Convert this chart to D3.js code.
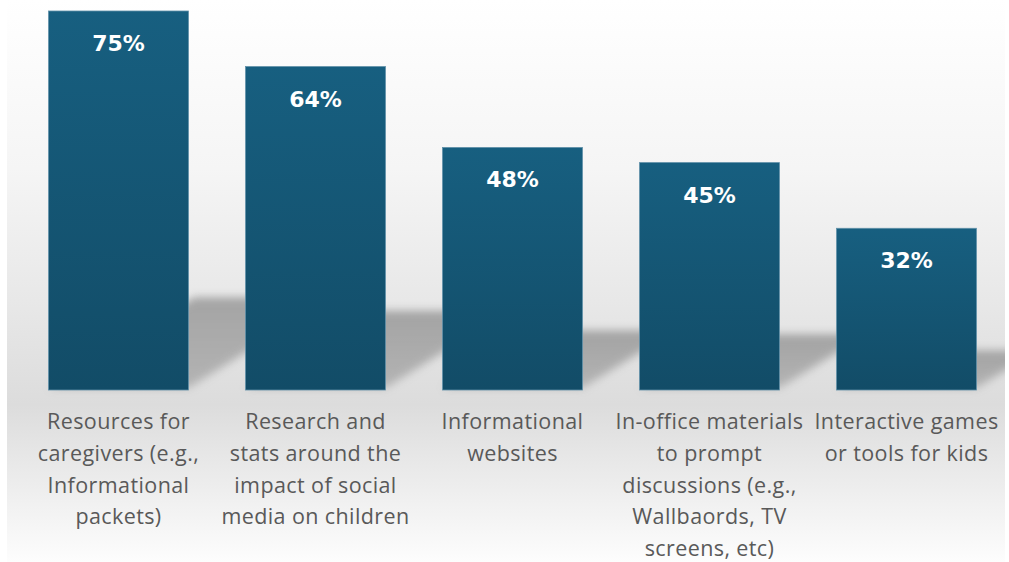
<!DOCTYPE html>
<html>
<head>
<meta charset="utf-8">
<script src="https://cdn.jsdelivr.net/npm/d3@7"></script>
<style>
  body { margin: 0; background: #fff; }
  svg { display: block; }
</style>
</head>
<body>
<div class="container"></div>
<script>
const categories = [
    ["Resources for", "caregivers (e.g.,", "Informational", "packets)"],
    ["Research and", "stats around the", "impact of social", "media on children"],
    ["Informational", "websites"],
    ["In-office materials", "to prompt", "discussions (e.g.,", "Wallbaords, TV", "screens, etc)"],
    ["Interactive games", "or tools for kids"]
];
const values = [75, 64, 48, 45, 32];

const width = 1009, height = 562,
    margin = {top: 11, bottom: 172, left: 20, right: 4};

const svg = d3.select('.container')
    .append('svg')
    .attr('width', width)
    .attr('height', height);

const defs = svg.append('defs');

const bg = defs.append('linearGradient')
    .attr('id', 'bg').attr('x1', 0).attr('y1', 0).attr('x2', 0).attr('y2', 1);
[[0, '#ffffff'], [0.3, '#f5f5f5'], [0.55, '#e7e7e7'], [0.72, '#dcdcdc'], [1, '#fdfdfd']]
    .forEach(([o, c]) => bg.append('stop').attr('offset', o).attr('stop-color', c));

const barGrad = defs.append('linearGradient')
    .attr('id', 'barGrad').attr('x1', 0).attr('y1', 0).attr('x2', 0).attr('y2', 1);
barGrad.append('stop').attr('offset', 0).attr('stop-color', '#175f80');
barGrad.append('stop').attr('offset', 1).attr('stop-color', '#124c67');

const shadowGrad = defs.append('linearGradient')
    .attr('id', 'shadowGrad').attr('x1', 0).attr('y1', 0).attr('x2', 0).attr('y2', 1);
shadowGrad.append('stop').attr('offset', 0).attr('stop-color', '#8a8a8a');
shadowGrad.append('stop').attr('offset', 1).attr('stop-color', '#a4a4a4');

defs.append('filter').attr('id', 'blur')
    .attr('x', '-30%').attr('y', '-30%').attr('width', '160%').attr('height', '160%')
    .append('feGaussianBlur').attr('stdDeviation', 4.5);

defs.append('clipPath').attr('id', 'plotClip')
    .append('rect').attr('x', 7).attr('y', 0).attr('width', 998).attr('height', height);

svg.append('rect')
    .attr('x', 7).attr('y', 0)
    .attr('width', 998).attr('height', height)
    .attr('fill', 'url(#bg)');

const xScale = d3.scaleBand()
    .domain(d3.range(values.length))
    .range([margin.left, width - margin.right])
    .paddingInner(0.29)
    .paddingOuter(0.145);

const yScale = d3.scaleLinear()
    .domain([0, 75])
    .range([height - margin.bottom, margin.top]);

const base = yScale(0);

// skewed shadows cast backwards onto the floor
svg.append('g')
    .attr('clip-path', 'url(#plotClip)')
    .selectAll('path')
    .data(values)
    .join('path')
    .attr('filter', 'url(#blur)')
    .attr('fill', 'url(#shadowGrad)')
    .attr('opacity', 0.72)
    .attr('d', (d, i) => {
        const x0 = xScale(i), w = xScale.bandwidth(),
            h = (base - yScale(d)) * 0.245, dx = h * 1.57;
        return `M${x0},${base - 2}L${x0 + w},${base - 2}L${x0 + w + dx},${base - h}L${x0 + dx},${base - h}Z`;
    });

svg.append('g')
    .selectAll('rect')
    .data(values)
    .join('rect')
    .attr('x', (d, i) => xScale(i))
    .attr('y', d => yScale(d))
    .attr('width', xScale.bandwidth())
    .attr('height', d => base - yScale(d))
    .attr('fill', 'url(#barGrad)')
    .attr('stroke', '#5f90a8')
    .attr('stroke-width', 0.8);

svg.append('g')
    .selectAll('text')
    .data(values)
    .join('text')
    .attr('x', (d, i) => xScale(i) + xScale.bandwidth() / 2)
    .attr('y', d => yScale(d) + 40)
    .attr('text-anchor', 'middle')
    .attr('fill', '#ffffff')
    .style('font-family', '"DejaVu Sans", sans-serif')
    .style('font-weight', 'bold')
    .style('font-size', '22px')
    .text(d => d + '%');

const labels = svg.append('g')
    .selectAll('text')
    .data(categories)
    .join('text')
    .attr('x', (d, i) => xScale(i) + xScale.bandwidth() / 2)
    .attr('y', base + 39)
    .attr('text-anchor', 'middle')
    .attr('fill', '#595959')
    .style('font-family', '"Open Sans", sans-serif')
    .style('font-size', '21.5px')
    .style('letter-spacing', '0.4px');

labels.selectAll('tspan')
    .data(d => d)
    .join('tspan')
    .attr('x', function () { return d3.select(this.parentNode).attr('x'); })
    .attr('dy', (d, j) => j === 0 ? 0 : 31.8)
    .text(d => d);
</script>
</body>
</html>
